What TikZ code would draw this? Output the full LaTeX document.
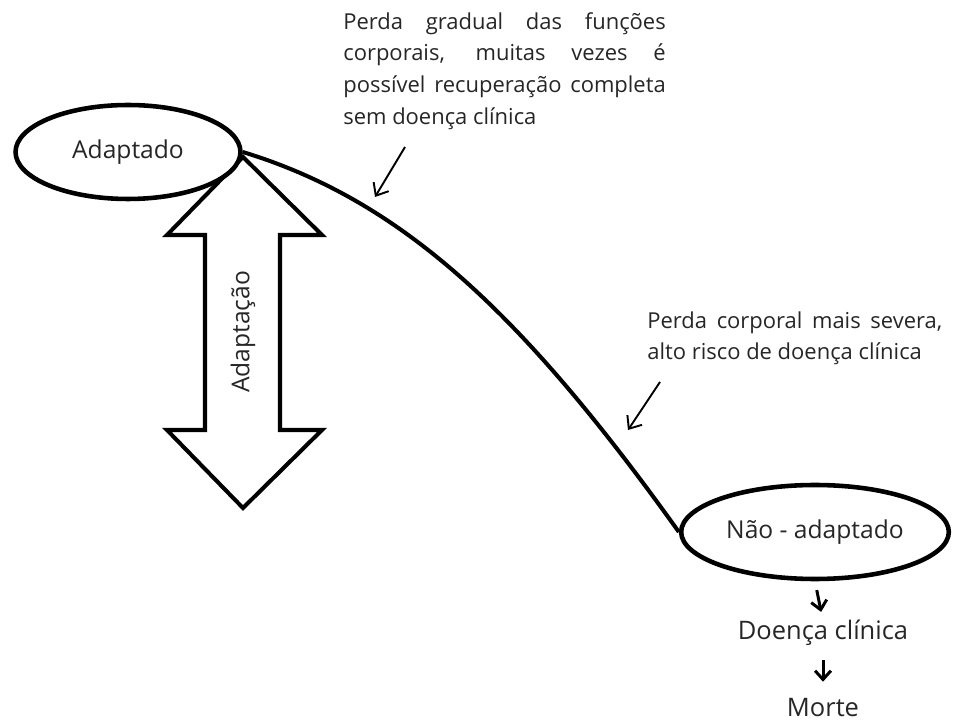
\documentclass[tikz,border=0pt]{standalone}
\usepackage{fontspec}
\setmainfont{Open Sans}
\usetikzlibrary{shapes.geometric, arrows.meta}

\tikzset{
    estado/.style={draw, ellipse, line width=2.6pt, fill=white, minimum width=4.5cm, minimum height=1.88cm, font=\fontsize{14}{16}\selectfont},
    rotulo/.style={inner sep=0pt, text height=10pt, text depth=3pt, font=\fontsize{14.5}{17}\selectfont},
    nota/.style={anchor=north west, inner sep=0pt, align=justify, font=\fontsize{12.5}{18}\selectfont},
    aponta/.style={-{Straight Barb[length=6pt,width=10pt]}, line width=1.1pt},
    seta/.style={-{Straight Barb[length=5pt,width=9pt]}, line width=1.7pt}
}

\begin{document}
\begin{tikzpicture}[x=0.02cm, y=-0.02cm, text=black!85]
    \useasboundingbox (0,0) rectangle (971,722);
    % double arrow
    \draw [line width=2.3pt, fill=white] (243,157) -- (322,235) -- (280,235) -- (280,430) -- (322,430) -- (243,508) -- (167,430) -- (205,430) -- (205,235) -- (167,235) -- cycle;
    \node [rotate=90, font=\fontsize{14}{16}\selectfont] (adaptacao) at (243,332) {Adaptação};
    \node [estado] (adapt) at (128,152) {Adaptado};
    \node [estado] (naoadapt) at (815,532) {Não - adaptado};
    \draw [line width=2.3pt] (adapt.east) .. controls (400,200) and (520,310) .. (naoadapt.west);
    \node [rotulo] (doenca) at (823,633) {Doença clínica};
    \node [rotulo] (morte) at (823,710) {Morte};
    \draw [seta, shorten <=0.18cm, shorten >=0.19cm] (naoadapt.south) -- (doenca.north);
    \draw [seta, shorten <=0.31cm, shorten >=0.33cm] (doenca.south) -- (morte.north);
    % notes
    \node [nota, text width=6.45cm] (gradual) at (343,12) {Perda gradual das funções\linebreak corporais, muitas vezes é\linebreak possível recuperação completa\linebreak sem doença clínica};
    \node [nota, text width=5.9cm] (severa) at (647,311) {Perda corporal mais severa,\linebreak alto risco de doença clínica};
    \coordinate (g1) at (405,147);
    \coordinate (g2) at (375,197);
    \coordinate (s1) at (660,382);
    \coordinate (s2) at (628,430);
    \draw [aponta] (g1) -- (g2);
    \draw [aponta] (s1) -- (s2);
\end{tikzpicture}
\end{document}
